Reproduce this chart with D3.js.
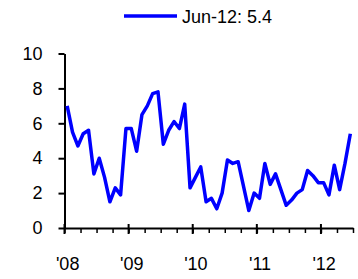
<!DOCTYPE html>
<html>
<meta charset="utf-8">
<style>
  body { margin: 0; background: #fff; }
  text { font-family: "Liberation Sans", Arial, sans-serif; }
</style>
<div id="chart"></div>
<script src="https://cdn.jsdelivr.net/npm/d3@7"></script>
<script>
  // monthly values, Jan-08 .. Jun-12
  var values = [
    7.0, 5.5, 4.7, 5.4, 5.6, 3.1, 4.0, 2.9, 1.5, 2.3, 1.9, 5.7,
    5.7, 4.4, 6.5, 7.0, 7.7, 7.8, 4.8, 5.6, 6.1, 5.7, 7.1, 2.3,
    2.9, 3.5, 1.5, 1.7, 1.1, 2.0, 3.9, 3.7, 3.8, 2.4, 1.0, 2.0,
    1.7, 3.7, 2.5, 3.1, 2.2, 1.3, 1.6, 2.0, 2.2, 3.3, 3.0, 2.6,
    2.6, 1.9, 3.6, 2.2, 3.7, 5.4
  ];
  var yearLabels = ["'08", "'09", "'10", "'11", "'12"];
  var yTicks = [0, 2, 4, 6, 8, 10];
  var legendLabel = "Jun-12: 5.4";

  var W = 358, H = 279;
  var svg = d3.select("#chart").append("svg").attr("width", W).attr("height", H);

  // category axis: one slot per month, points sit in the middle of each slot
  var x = d3.scaleLinear().domain([0, values.length]).range([64.5, 353]);
  var y = d3.scaleLinear().domain([0, 10]).range([228, 53.5]);

  // minor ticks every quarter (below axis)
  var minor = svg.append("g").attr("transform", "translate(0,228)")
    .call(d3.axisBottom(x).tickValues(d3.range(0, values.length + 1, 3))
      .tickSizeInner(5).tickSizeOuter(0).tickFormat(""));
  minor.select(".domain").attr("stroke", "#000").attr("stroke-width", 2);
  minor.selectAll(".tick line").attr("stroke", "#000").attr("stroke-width", 1.5);

  // major ticks every year, crossing the axis
  svg.append("g").selectAll("line")
    .data(d3.range(0, values.length, 12))
    .enter().append("line")
      .attr("x1", function (d) { return x(d); })
      .attr("x2", function (d) { return x(d); })
      .attr("y1", 224).attr("y2", 234)
      .attr("stroke", "#000").attr("stroke-width", 2);

  // year labels under the first month of each year
  var lab = svg.append("g").attr("transform", "translate(0,228)")
    .call(d3.axisBottom(x).tickValues(yearLabels.map(function (d, i) { return i * 12 + 0.5; }))
      .tickSize(0).tickPadding(29)
      .tickFormat(function (d) { return yearLabels[Math.round((d - 0.5) / 12)]; }));
  lab.select(".domain").remove();
  lab.selectAll("text").attr("font-size", 18).attr("fill", "#000")
    .style("font-family", "'Liberation Sans', Arial, sans-serif");

  // y axis
  var ya = svg.append("g").attr("transform", "translate(64.5,0)")
    .call(d3.axisLeft(y).tickValues(yTicks).tickSizeInner(6).tickSizeOuter(0).tickPadding(16));
  ya.select(".domain").attr("stroke", "#000").attr("stroke-width", 2);
  ya.selectAll(".tick line").attr("stroke", "#000").attr("stroke-width", 2);
  ya.selectAll("text").attr("font-size", 18).attr("fill", "#000")
    .style("font-family", "'Liberation Sans', Arial, sans-serif");

  // the series
  var line = d3.line()
    .x(function (d, i) { return x(i + 0.5); })
    .y(function (d) { return y(d); });
  svg.append("path").datum(values)
    .attr("d", line)
    .attr("fill", "none")
    .attr("stroke", "#0000ff")
    .attr("stroke-width", 3.5)
    .attr("stroke-linejoin", "round");

  // legend
  svg.append("line").attr("x1", 124).attr("x2", 177).attr("y1", 16).attr("y2", 16)
    .attr("stroke", "#0000ff").attr("stroke-width", 3.5);
  svg.append("text").attr("x", 182).attr("y", 23)
    .attr("font-size", 18).attr("fill", "#000")
    .text(legendLabel);
</script>
</html>
